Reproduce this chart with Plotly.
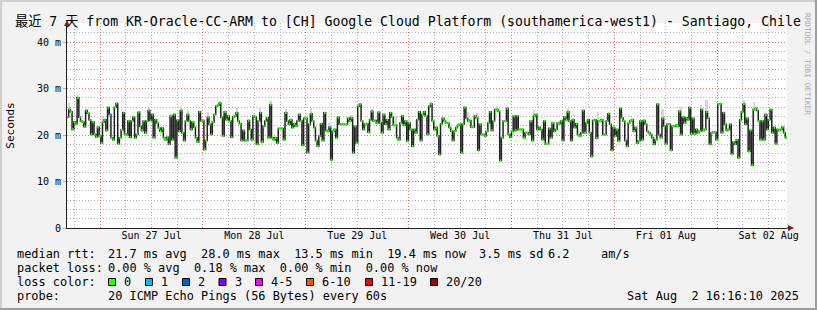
import pandas as pd
import plotly.graph_objects as go

# ---------------- data ----------------
rtt_ms = [
    23.8, 25.5, 25.0, 21.2, 22.8, 22.4, 28.0, 23.8, 23.0, 22.8,
    21.8, 25.3, 24.7, 23.3, 20.1, 22.8, 20.1, 19.6, 21.7, 19.8,
    18.3, 22.8, 23.3, 21.0, 25.9, 24.4, 19.4, 19.0, 26.0, 26.8,
    18.1, 19.4, 21.1, 24.8, 20.2, 20.0, 23.0, 19.5, 23.0, 23.9,
    19.4, 20.1, 24.9, 21.9, 21.0, 23.0, 20.5, 23.0, 25.3, 23.1,
    24.4, 19.4, 23.3, 22.6, 21.5, 20.8, 21.5, 19.4, 19.0, 19.5,
    18.0, 24.1, 19.0, 24.4, 15.1, 23.2, 20.8, 25.3, 20.5, 18.8,
    23.0, 24.4, 23.0, 21.2, 22.8, 21.7, 19.4, 18.5, 25.0, 23.0,
    23.1, 16.9, 18.8, 23.8, 22.3, 20.1, 22.8, 24.4, 26.2, 26.4,
    26.9, 23.8, 19.8, 25.0, 23.3, 24.1, 23.0, 19.5, 23.9, 24.1,
    24.8, 23.0, 22.4, 18.8, 21.0, 18.8, 18.8,
    23.1, 21.2, 19.0, 24.1, 23.9, 18.0, 23.0, 24.8, 18.5, 21.9,
    23.0, 23.7, 19.4, 26.5, 19.4, 19.0, 19.4, 18.3, 21.4, 21.4,
    21.4, 19.0, 24.8, 23.0, 22.3, 23.3, 21.6, 22.4, 21.9, 23.0,
    24.4, 23.0, 17.8, 23.6, 23.6, 16.2, 22.3, 24.6, 23.0, 21.6,
    18.8, 17.6, 19.8, 22.4, 18.8, 24.8, 21.0, 20.8, 21.7, 14.7,
    20.8, 21.2, 19.4, 23.8, 22.3, 22.3, 22.3, 22.3, 22.3, 23.6,
    23.0, 23.7, 16.2, 21.9, 18.3, 26.2, 26.6, 23.0, 21.2, 22.3,
    22.4, 20.6, 23.3, 25.1, 23.0, 23.1, 22.6, 24.9, 22.6, 20.5,
    24.4, 22.3, 23.3, 21.2, 24.8, 23.9, 22.1, 22.1, 19.4, 19.0,
    22.6, 24.1, 22.1, 23.0, 18.7, 22.6, 21.2, 17.6, 21.2, 20.5,
    23.3, 25.0, 18.8, 24.4, 25.0, 24.1,
    20.1, 26.2, 26.7, 23.0, 21.2, 21.6, 19.8, 15.8, 22.4,
    23.6, 23.0, 22.6, 22.6, 21.6, 20.8, 18.8, 20.8, 21.6, 22.1,
    22.3, 16.2, 22.3, 25.9, 23.6, 23.0, 23.1, 21.7, 21.7, 24.1,
    23.7, 16.7, 22.3, 20.1, 20.1, 19.8, 20.8, 22.6, 25.0, 21.0,
    23.0, 25.5, 25.5, 25.1, 14.5, 19.4, 23.0, 23.0, 25.7, 20.1,
    19.5, 20.8, 24.1, 21.0, 24.1, 21.2, 21.2, 21.2, 19.4, 20.5,
    20.5, 20.1, 23.0, 18.8, 24.1, 24.4, 21.2, 21.7, 21.2, 19.0,
    23.0, 18.1, 18.1, 21.4, 19.4, 22.6, 20.8, 21.2, 22.6, 22.4,
    23.0, 18.8, 23.9, 23.3, 25.0, 23.0, 18.8, 23.3, 21.6, 22.4,
    20.1, 19.8, 20.5, 25.3, 20.5, 22.6, 23.3, 20.5, 15.4, 23.1,
    23.3, 19.3, 23.0, 23.0, 23.3, 20.1, 20.1, 23.0,
    24.6, 22.3, 16.7, 21.6, 19.8, 21.2, 18.7, 25.7, 23.7, 23.0,
    18.8, 17.6, 22.6, 23.0, 23.3, 20.8, 21.6, 18.3, 18.7, 23.0,
    19.0, 23.1, 22.3, 20.8, 20.5, 20.1, 19.4, 18.0, 19.0, 26.6,
    20.1, 19.4, 23.6, 21.9, 18.1, 22.3, 22.3, 16.7, 21.9, 21.9,
    22.1, 21.9, 25.1, 20.1, 23.9, 22.6, 23.7, 23.3, 25.9, 20.3,
    23.6, 20.3, 21.2, 20.5, 20.8, 25.5, 21.0, 21.2, 25.0, 23.6,
    18.0, 20.5, 20.6, 20.6, 19.0, 26.6, 26.7, 20.5, 24.8, 22.3,
    21.0, 21.2, 22.3, 15.9, 18.5, 18.0, 19.0, 15.1, 23.3, 25.0,
    26.7, 22.3, 23.6, 16.5, 21.0, 13.5, 25.5, 25.7, 25.3,
    23.0, 19.0, 23.0, 19.0, 24.4, 21.2, 23.3, 25.5, 20.5, 21.6,
    18.1, 21.2, 21.0, 21.2, 21.7, 20.5, 19.4,
]

# visible "smoke" (ping spread) tops, by sample number
smoke_idx = [1, 6, 21, 29, 48, 67, 71, 83, 90, 100, 114, 120, 129, 133, 144, 155,
             168, 180, 194, 202, 206, 215, 237, 242, 254, 276, 296, 314, 319, 328,
             352, 363, 375, 378, 400, 406]
smoke_top_ms = [26.9, 28.7, 24.1, 27.2, 25.9, 26.3, 25.3, 25.0, 27.4, 25.8, 26.0, 27.4,
                25.6, 23.3, 25.8, 22.6, 24.3, 25.5, 24.0, 23.4, 23.3, 27.0, 25.0, 24.7,
                26.3, 25.4, 25.5, 25.0, 24.1, 25.0, 25.6, 26.0, 26.4, 27.5, 27.6, 27.2]

# samples with 1 lost ping (blue)
loss1_idx = [25, 155]

t_start = "2025-07-26 16:16:10"
t_end = "2025-08-02 16:16:10"

day_noons = ["2025-07-27 12:00", "2025-07-28 12:00", "2025-07-29 12:00", "2025-07-30 12:00",
             "2025-07-31 12:00", "2025-08-01 12:00", "2025-08-02 12:00"]
day_labels = ["Sun 27 Jul", "Mon 28 Jul", "Tue 29 Jul", "Wed 30 Jul",
              "Thu 31 Jul", "Fri 01 Aug", "Sat 02 Aug"]

title_text = "最近 7 天 from KR-Oracle-CC-ARM to [CH] Google Cloud Platform (southamerica-west1) - Santiago, Chile"
rtt_label = "median rtt:"
rtt_stats = "21.7 ms avg  28.0 ms max  13.5 ms min  19.4 ms now"
rtt_sd = "3.5 ms sd"
rtt_ams = "6.2"
rtt_ams_unit = "am/s"
loss_label = "packet loss:"
loss_stats = "0.00 % avg  0.18 % max  0.00 % min  0.00 % now"
color_label = "loss color:"
loss_names = ["0", "1", "2", "3", "4-5", "6-10", "11-19", "20/20"]
loss_colors = ["#26ff00", "#00b8ff", "#0059ff", "#7e00ff", "#ff00ff", "#ff5500", "#ff0000", "#a00000"]
probe_label = "probe:"
probe_text = "20 ICMP Echo Pings (56 Bytes) every 60s"
stamp_text = "Sat Aug  2 16:16:10 2025"

# ---------------- styling ----------------
W, H = 817, 310
L, R, T, B = 67, 30, 23, 82
PW, PH = W - L - R, H - T - B
MONO = "DejaVu Sans Mono, Noto Sans CJK SC, monospace"
BG = "#f2f2f2"
GRID = "#b4b4b4"
MGRID = "#e87878"
ARROW = "#801f1f"
DASH = "1px,2px"


def px(x):
    return (x - L) / PW


def py(y):
    return (H - B - y) / PH


def nb(s):
    return s.replace(" ", "\u00a0")


n = len(rtt_ms)
edges = pd.date_range(t_start, t_end, periods=n + 1)
step = edges[1] - edges[0]
mids = edges[:-1] + step / 2

fig = go.Figure()

# smoke
sm_x = [mids[i] for i in smoke_idx]
sm_base = [rtt_ms[i] for i in smoke_idx]
sm_h = [max(tp - rtt_ms[i], 0) for i, tp in zip(smoke_idx, smoke_top_ms)]
fig.add_trace(go.Bar(x=sm_x, y=sm_h, base=sm_base, width=step.total_seconds() * 1000,
                     marker=dict(color="#d6d6d6", line=dict(width=0)), hoverinfo="skip"))

# median step line (dark)
fig.add_trace(go.Scatter(x=list(edges), y=rtt_ms + [rtt_ms[-1]], mode="lines",
                         line=dict(color="#202020", width=1.5, shape="hv"), hoverinfo="skip"))


# loss-coloured median segments
def seg_trace(indices, color):
    xs, ys = [], []
    for i in indices:
        xs += [edges[i], edges[i + 1], None]
        ys += [rtt_ms[i], rtt_ms[i], None]
    return go.Scatter(x=xs, y=ys, mode="lines", line=dict(color=color, width=2.4),
                      hoverinfo="skip", connectgaps=False)


green_idx = [i for i in range(n) if i not in loss1_idx]
fig.add_trace(seg_trace(green_idx, loss_colors[0]))
fig.add_trace(seg_trace(loss1_idx, loss_colors[1]))

# invisible trace for the label axis
fig.add_trace(go.Scatter(x=[t_start, t_end], y=[0, 0], xaxis="x2", mode="lines",
                         line=dict(width=0), opacity=0, hoverinfo="skip"))

fig.update_layout(
    width=W, height=H,
    margin=dict(l=L, r=R, t=T, b=B, pad=0, autoexpand=False),
    paper_bgcolor=BG, plot_bgcolor="white",
    showlegend=False,
    font=dict(family=MONO, size=10, color="black"),
    xaxis=dict(type="date", range=[t_start, t_end], showticklabels=False, automargin=False,
               tickmode="linear", tick0="2025-07-27 00:00:00", dtick=86400000, ticks="",
               showgrid=True, gridcolor=MGRID, griddash=DASH, gridwidth=1,
               minor=dict(tickmode="linear", tick0="2025-07-27 00:00:00", dtick=21600000,
                          showgrid=True, gridcolor=GRID, griddash=DASH, gridwidth=1),
               showline=True, linecolor="#1f1f1f", linewidth=1, zeroline=False),
    xaxis2=dict(type="date", overlaying="x", anchor="y", side="bottom", automargin=False,
                range=[t_start, t_end], tickmode="array", tickvals=day_noons,
                ticktext=day_labels, showgrid=False, ticks="", showline=False,
                zeroline=False, tickfont=dict(family=MONO, size=10, color="black"),
                ticklabelstandoff=0),
    yaxis=dict(range=[0, 44.1], tickmode="linear", tick0=0, dtick=10, ticksuffix=" m",
               labelalias={"0 m": "0"}, automargin=False,
               showgrid=True, gridcolor=MGRID, griddash=DASH, gridwidth=1,
               minor=dict(tickmode="linear", tick0=0, dtick=2, showgrid=True,
                          gridcolor=GRID, griddash=DASH, gridwidth=1),
               ticks="outside", ticklen=3, tickcolor="#b0b0b0",
               tickfont=dict(family=MONO, size=10, color="black"),
               showline=True, linecolor="#1f1f1f", linewidth=1, zeroline=False,
               title=dict(text="Seconds", font=dict(family=MONO, size=11, color="black"),
                          standoff=20)),
    bargap=0,
)

ann = []


def add_text(x, y, text, size=11.9, anchor="left", color="black", angle=0):
    ann.append(dict(x=px(x), y=py(y), xref="paper", yref="paper", text=nb(text),
                    showarrow=False, xanchor=anchor, yanchor="middle", textangle=angle,
                    font=dict(family=MONO, size=size, color=color), borderpad=0))


add_text(14, 21, title_text, size=13.2)
add_text(807, 64, "RRDTOOL / TOBI OETIKER", size=7.7, anchor="center", color="#a8a8a8", angle=90)

add_text(16, 254, rtt_label)
add_text(107, 254, rtt_stats)
add_text(478, 254, rtt_sd)
add_text(547, 254, rtt_ams)
add_text(600, 254, rtt_ams_unit)

add_text(16, 268, loss_label)
add_text(107, 268, loss_stats)

add_text(16, 282, color_label)
box_x = [108.5, 145.5, 182.5, 219, 255.5, 306.5, 365.5, 430.5]
shapes = []
for bx, name, col in zip(box_x, loss_names, loss_colors):
    shapes.append(dict(type="rect", xref="paper", yref="paper",
                       x0=px(bx), x1=px(bx + 7), y0=py(278.5), y1=py(285.5),
                       fillcolor=col, line=dict(color="black", width=1)))
    add_text(bx + 14.5, 282, name)

add_text(16, 296, probe_label)
add_text(107, 296, probe_text)
add_text(800, 296, stamp_text, anchor="right")

# arrows
shapes.append(dict(type="path", xref="paper", yref="paper",
                   path=f"M {px(788)} {py(225)} L {px(794)} {py(228)} L {px(788)} {py(231)} Z",
                   fillcolor=ARROW, line=dict(width=0)))
shapes.append(dict(type="line", xref="paper", yref="paper", x0=px(787), x1=px(789),
                   y0=py(228), y1=py(228), line=dict(color="#1f1f1f", width=1)))
shapes.append(dict(type="path", xref="paper", yref="paper",
                   path=f"M {px(64)} {py(26)} L {px(67)} {py(20)} L {px(70)} {py(26)} Z",
                   fillcolor=ARROW, line=dict(width=0)))

# 3D frame
shapes.append(dict(type="rect", xref="paper", yref="paper", x0=px(0), x1=px(W), y0=py(0), y1=py(2),
                   fillcolor="#cfcfcf", line=dict(width=0), layer="above"))
shapes.append(dict(type="rect", xref="paper", yref="paper", x0=px(0), x1=px(2), y0=py(0), y1=py(H),
                   fillcolor="#cfcfcf", line=dict(width=0), layer="above"))
shapes.append(dict(type="rect", xref="paper", yref="paper", x0=px(W - 2), x1=px(W), y0=py(0), y1=py(H),
                   fillcolor="#9e9e9e", line=dict(width=0), layer="above"))
shapes.append(dict(type="rect", xref="paper", yref="paper", x0=px(0), x1=px(W), y0=py(H - 2), y1=py(H),
                   fillcolor="#9e9e9e", line=dict(width=0), layer="above"))

fig.update_layout(annotations=ann, shapes=shapes)
fig.write_html("out.html")
